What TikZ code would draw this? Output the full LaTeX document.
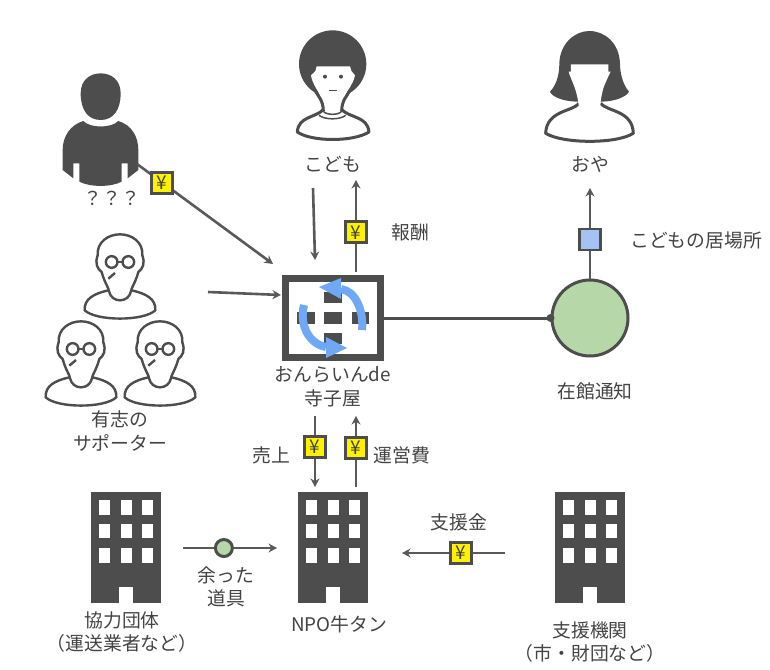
\documentclass[tikz,border=0pt]{standalone}
\usepackage{fontspec}
\setmainfont{Noto Sans CJK JP}
\usetikzlibrary{arrows.meta}

\definecolor{ink}{HTML}{4D4D4D}
\definecolor{flowgray}{HTML}{595959}
\definecolor{txtgray}{HTML}{434343}
\definecolor{skyblue}{HTML}{6FA8F5}
\definecolor{boxblue}{HTML}{A4C2F4}
\definecolor{leafgreen}{HTML}{B6D7A8}

\tikzset{
    lbl/.style={text=txtgray, align=center, inner sep=0pt, font=\fontsize{18.8}{23.5}\selectfont},
    flow/.style={draw=flowgray, line width=2.6pt, -{Stealth[length=8.5pt,width=9pt]}},
    link/.style={draw=ink, line width=3pt},
    yen/.style={draw=ink, fill=yellow, line width=3pt, minimum size=21pt, inner sep=0pt, text=txtgray, font=\fontsize{19}{19}\selectfont},
    goods/.style={circle, draw=ink, fill=leafgreen, line width=3pt, minimum size=17pt, inner sep=0pt},
    bluebox/.style={draw=ink, fill=boxblue, line width=2.5pt, minimum size=21pt, inner sep=0pt},
    building/.pic={
        \fill[ink] (-35,0) rectangle (35,111);
        \foreach \cx in {-27,-5.5,16}
            \foreach \cy/\h in {8/15,32/14,56/15}
                \fill[white] (\cx,\cy) rectangle +(11,\h);
        \fill[white] (-7,95) rectangle (7,111);
    },
    helper/.pic={
        \begin{scope}[x=.3333pt,y=-.3333pt,draw=ink,line width=2.4pt,line join=round]
            \draw[fill=white] (-35,85) .. controls (-78,95) and (-108,110) .. (-106,145)
                .. controls (-70,178) and (70,178) .. (106,145)
                .. controls (108,110) and (78,95) .. (35,85)
                -- (-35,85);
            \draw[fill=white] (-35,80) .. controls (-42,65) and (-50,50) .. (-55,30)
                .. controls (-68,20) and (-76,5) .. (-67,-20)
                .. controls (-70,-60) and (-35,-83) .. (0,-83)
                .. controls (35,-83) and (70,-60) .. (67,-20)
                .. controls (76,5) and (68,20) .. (55,30)
                .. controls (50,50) and (42,65) .. (35,80)
                -- (33,88) .. controls (25,124) and (-25,124) .. (-33,88) -- cycle;
            \draw[fill=white] (-25,0) circle (17.5) (25,0) circle (17.5);
            \draw (-8,0) -- (8,0);
            \draw (-35,50) -- (-15,33);
        \end{scope}
    }
}

\begin{document}
\begin{tikzpicture}[x=1pt,y=-1pt]
    \useasboundingbox (0,0) rectangle (770,669);

    % Nodes

    \node[draw=ink, fill=white, line width=7pt, minimum width=95pt, minimum height=79pt] (hub) at (333,318) {};
    \node[circle, draw=ink, fill=leafgreen, line width=3pt, minimum size=76pt] (stock) at (590,318) {};

    % Free ends

    \coordinate (kidout) at (313,188);
    \coordinate (kidin) at (315,260);
    \coordinate (payfrom) at (356,272);
    \coordinate (payto) at (356,180);
    \coordinate (whoout) at (137,164);
    \coordinate (whoin) at (273,264);
    \coordinate (helpout) at (208,292);
    \coordinate (helpin) at (281,295);
    \coordinate (stockto) at (590,188);
    \coordinate (salefrom) at (315,416);
    \coordinate (saleto) at (315,487);
    \coordinate (costfrom) at (356,487);
    \coordinate (costto) at (356,416);
    \coordinate (toolfrom) at (183,548);
    \coordinate (toolto) at (277,548);
    \coordinate (fundfrom) at (505,553);
    \coordinate (fundto) at (402,553);

    % Hub marks

    \foreach \cx in {297,324,351.5}
        \fill[ink] (\cx,312) rectangle +(17.5,12);
    \foreach \cy/\h in {292/11,333/11}
        \fill[ink] (324,\cy) rectangle +(18,\h);
    \draw[skyblue, line width=8pt] (341,289) .. controls (356,291) and (364,312) .. (362,330);
    \fill[skyblue] (319,287) -- (341,278) -- (341,299) -- cycle;
    \draw[skyblue, line width=8pt] (304,305) .. controls (299,325) and (309,344) .. (326,347);
    \fill[skyblue] (347,348) -- (326,337) -- (326,358) -- cycle;

    % People

    \begin{scope}[shift={(40,60)},x=.3333pt,y=-.3333pt]
        \fill[ink] (122,100) .. controls (122,60) and (150,40) .. (182,40)
            .. controls (214,40) and (242,60) .. (242,100)
            .. controls (242,150) and (220,180) .. (182,180)
            .. controls (144,180) and (122,150) .. (122,100) -- cycle;
        \fill[ink] (130,183) .. controls (90,195) and (68,230) .. (68,270) -- (68,330)
            -- (100,355) -- (100,310) -- (118,310) -- (118,365)
            .. controls (150,382) and (214,382) .. (245,365)
            -- (245,310) -- (263,310) -- (263,355) -- (295,330) -- (295,270)
            .. controls (295,230) and (275,195) .. (235,183)
            .. controls (215,205) and (150,205) .. (130,183) -- cycle;
    \end{scope}

    \begin{scope}[shift={(295,28)},x=.3333pt,y=-.3333pt,line join=round]
        \fill[ink] (113,108) circle (101);
        \draw[ink, fill=white, line width=3pt] (85,245) .. controls (60,270) and (10,265) .. (7,312)
            .. controls (50,342) and (175,342) .. (222,312)
            .. controls (218,265) and (165,270) .. (140,245);
        \fill[white] (48,142) .. controls (62,130) and (65,125) .. (65,115) -- (165,115)
            .. controls (165,125) and (170,130) .. (180,142)
            .. controls (175,170) and (150,195) .. (140,225) -- (140,255) -- (85,255) -- (85,225)
            .. controls (75,195) and (52,170) .. (48,142) -- cycle;
        \draw[ink, line width=3pt] (60,186) .. controls (68,205) and (85,215) .. (85,250);
        \draw[ink, line width=3pt] (165,186) .. controls (157,205) and (140,215) .. (140,250);
        \draw[ink, line width=1.5pt] (72,262) .. controls (90,276) and (135,276) .. (152,262);
        \draw[ink, line width=1.5pt] (85,250) .. controls (95,262) and (130,262) .. (140,250);
        \fill[ink] (90,146) circle (6) (138,146) circle (6);
        \draw[ink, line width=1.5pt] (102,187) -- (125,187);
    \end{scope}

    \begin{scope}[shift={(280,20)},x=.3333pt,y=-.3333pt,line join=round]
        \draw[ink, fill=white, line width=3pt] (897,250) .. controls (880,275) and (800,270) .. (797,340)
            .. controls (850,372) and (1010,372) .. (1060,340)
            .. controls (1058,270) and (980,275) .. (962,250);
        \fill[ink] (895,245) .. controls (850,245) and (815,230) .. (810,215)
            .. controls (835,190) and (838,150) .. (838,130)
            .. controls (840,70) and (885,33) .. (928,33)
            .. controls (975,33) and (1018,70) .. (1020,130)
            .. controls (1020,150) and (1025,190) .. (1047,215)
            .. controls (1040,230) and (1005,245) .. (962,245) -- cycle;
        \fill[white] (873,133) -- (985,133) -- (985,155) -- (992,155)
            .. controls (985,170) and (975,190) .. (970,205)
            .. controls (965,225) and (962,240) .. (960,262) -- (897,262)
            .. controls (895,240) and (890,220) .. (885,205)
            .. controls (880,190) and (870,170) .. (866,155) -- (873,155) -- cycle;
    \end{scope}

    \pic at (120,262) {helper};
    \pic at (81,349) {helper};
    \pic at (160,349) {helper};

    % Buildings

    \pic at (126,492) {building};
    \pic at (333,492) {building};
    \pic at (590,492) {building};

    % Edges

    \draw[flow] (kidout) -- (kidin);
    \draw[flow] (payfrom) -- (payto) node[yen, pos=.43] (yenpay) {¥};
    \draw[flow] (whoout) -- (whoin) node[yen, pos=.185] (yenwho) {¥};
    \draw[flow] (helpout) -- (helpin);
    \draw[link] (hub.east) -- (stock.west);
    \fill[ink] (stock.west) circle (4);
    \draw[flow] (stock.north) -- (stockto) node[bluebox, pos=.43] (place) {};
    \draw[flow] (salefrom) -- (saleto) node[yen, pos=.43] (yensale) {¥};
    \draw[flow] (costfrom) -- (costto) node[yen, pos=.55] (yencost) {¥};
    \draw[flow] (toolfrom) -- (toolto) node[goods, pos=.435] (tool) {};
    \draw[flow] (fundfrom) -- (fundto) node[yen, pos=.43] (yenfund) {¥};

    % Labels

    \node[lbl] (kidlbl) at (333,164) {こども};
    \node[lbl] (parentlbl) at (590,164) {おや};
    \node[lbl] (wholbl) at (112,198) {？？？};
    \node[lbl] (paylbl) at (410,232) {報酬};
    \node[lbl] (placelbl) at (696,240) {こどもの居場所};
    \node[lbl] (hublbl) at (333,387) {おんらいんde\\寺子屋};
    \node[lbl] (stocklbl) at (595,391) {在館通知};
    \node[lbl] (helplbl) at (120,431) {有志の\\サポーター};
    \node[lbl] (salelbl) at (271,455) {売上};
    \node[lbl] (costlbl) at (402,455) {運営費};
    \node[lbl] (fundlbl) at (459,522) {支援金};
    \node[lbl] (toollbl) at (226,587) {余った\\道具};
    \node[lbl] (partnerlbl) at (122,632) {協力団体\\（運送業者など）};
    \node[lbl] (npolbl) at (339,624) {NPO牛タン};
    \node[lbl] (donorlbl) at (590,642) {支援機関\\（市・財団など）};

\end{tikzpicture}
\end{document}
